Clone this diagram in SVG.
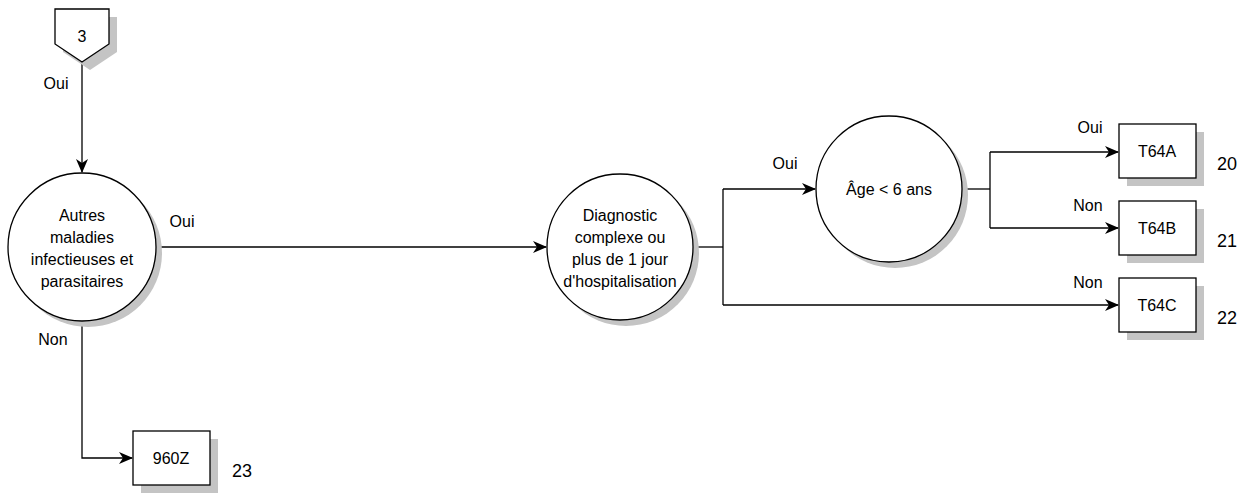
<svg xmlns="http://www.w3.org/2000/svg" width="1255" height="493" viewBox="0 0 1255 493">
<style>
text{font-family:"Liberation Sans",Arial,sans-serif;font-size:16px;fill:#000}
.c{text-anchor:middle}
.n{font-size:18px}
.shape{fill:#fff;stroke:#000;stroke-width:1.3}
.sh{fill:#c4c4c4}
.ln{fill:none;stroke:#000;stroke-width:1.3}
</style>
<defs>
<marker id="ah" markerWidth="14" markerHeight="12" refX="13" refY="6" orient="auto" markerUnits="userSpaceOnUse">
<path d="M0,0 L14,6 L0,12 L4,6 z" fill="#000"/>
</marker>
</defs>
<rect width="1255" height="493" fill="#fff"/>
<g id="connectors">
<path class="ln" d="M82,62 V172" marker-end="url(#ah)"/>
<path class="ln" d="M156,247 H546" marker-end="url(#ah)"/>
<path class="ln" d="M82,320 V458 H132" marker-end="url(#ah)"/>
<path class="ln" d="M693,247 H723"/>
<path class="ln" d="M723,189 V305"/>
<path class="ln" d="M723,189 H815" marker-end="url(#ah)"/>
<path class="ln" d="M723,305 H1118" marker-end="url(#ah)"/>
<path class="ln" d="M962,189 H990"/>
<path class="ln" d="M990,152 V228"/>
<path class="ln" d="M990,152 H1118" marker-end="url(#ah)"/>
<path class="ln" d="M990,228 H1118" marker-end="url(#ah)"/>
<text class="c" x="56" y="89">Oui</text>
<text class="c" x="182" y="227">Oui</text>
<text class="c" x="53" y="345">Non</text>
<text class="c" x="785" y="169">Oui</text>
<text class="c" x="1090" y="133">Oui</text>
<text class="c" x="1088" y="211">Non</text>
<text class="c" x="1088" y="288">Non</text>
</g>
<g id="node-3">
<polygon class="sh" points="63,17 117,17 117,52 90,70 63,52"/>
<polygon class="shape" points="55,9 109,9 109,44 82,62 55,44"/>
<text class="c" x="82" y="42">3</text>
</g>
<g id="node-autres">
<circle class="sh" cx="88" cy="253" r="74"/>
<circle class="shape" cx="82" cy="247" r="74"/>
<text class="c" x="82" y="221">Autres</text>
<text class="c" x="82" y="243">maladies</text>
<text class="c" x="82" y="265">infectieuses et</text>
<text class="c" x="82" y="287">parasitaires</text>
</g>
<g id="node-diag">
<circle class="sh" cx="626" cy="253" r="73"/>
<circle class="shape" cx="620" cy="247" r="73"/>
<text class="c" x="620" y="221">Diagnostic</text>
<text class="c" x="620" y="243">complexe ou</text>
<text class="c" x="620" y="265">plus de 1 jour</text>
<text class="c" x="620" y="287">d'hospitalisation</text>
</g>
<g id="node-age">
<circle class="sh" cx="895" cy="195" r="73"/>
<circle class="shape" cx="889" cy="189" r="73"/>
<text class="c" x="889" y="195">Âge &lt; 6 ans</text>
</g>
<g id="node-T64A">
<rect class="sh" x="1127" y="132" width="77" height="54"/>
<rect class="shape" x="1119" y="124" width="77" height="54"/>
<text class="c" x="1157" y="157">T64A</text>
<text class="n" x="1217" y="170">20</text>
</g>
<g id="node-T64B">
<rect class="sh" x="1127" y="209" width="77" height="54"/>
<rect class="shape" x="1119" y="201" width="77" height="54"/>
<text class="c" x="1157" y="234">T64B</text>
<text class="n" x="1217" y="247">21</text>
</g>
<g id="node-T64C">
<rect class="sh" x="1127" y="286" width="77" height="54"/>
<rect class="shape" x="1119" y="278" width="77" height="54"/>
<text class="c" x="1157" y="311">T64C</text>
<text class="n" x="1217" y="324">22</text>
</g>
<g id="node-960Z">
<rect class="sh" x="141" y="439" width="77" height="54"/>
<rect class="shape" x="133" y="431" width="77" height="54"/>
<text class="c" x="171" y="464">960Z</text>
<text class="n" x="232" y="477">23</text>
</g>
</svg>
